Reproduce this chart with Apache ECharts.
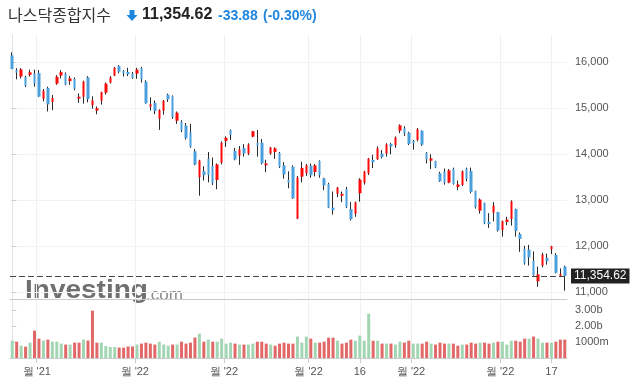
<!DOCTYPE html>
<html><head><meta charset="utf-8">
<script src="https://cdn.jsdelivr.net/npm/echarts@6/dist/echarts.min.js"></script>
<style>html,body{margin:0;padding:0;background:#fff}#c{width:633px;height:384px}</style>
</head><body><div id="c"></div>
<script>
const dates = [
'2021-11-22','2021-11-23','2021-11-24','2021-11-26','2021-11-29','2021-11-30',
'2021-12-01','2021-12-02','2021-12-03','2021-12-06','2021-12-07','2021-12-08','2021-12-09','2021-12-10','2021-12-13','2021-12-14','2021-12-15','2021-12-16','2021-12-17','2021-12-20','2021-12-21','2021-12-22','2021-12-23','2021-12-27','2021-12-28','2021-12-29','2021-12-30','2021-12-31',
'2022-01-03','2022-01-04','2022-01-05','2022-01-06','2022-01-07','2022-01-10','2022-01-11','2022-01-12','2022-01-13','2022-01-14','2022-01-18','2022-01-19','2022-01-20','2022-01-21','2022-01-24','2022-01-25','2022-01-26','2022-01-27','2022-01-28','2022-01-31',
'2022-02-01','2022-02-02','2022-02-03','2022-02-04','2022-02-07','2022-02-08','2022-02-09','2022-02-10','2022-02-11','2022-02-14','2022-02-15','2022-02-16','2022-02-17','2022-02-18','2022-02-22','2022-02-23','2022-02-24','2022-02-25','2022-02-28',
'2022-03-01','2022-03-02','2022-03-03','2022-03-04','2022-03-07','2022-03-08','2022-03-09','2022-03-10','2022-03-11','2022-03-14','2022-03-15','2022-03-16','2022-03-17','2022-03-18','2022-03-21','2022-03-22','2022-03-23','2022-03-24','2022-03-25','2022-03-28','2022-03-29','2022-03-30','2022-03-31',
'2022-04-01','2022-04-04','2022-04-05','2022-04-06','2022-04-07','2022-04-08','2022-04-11','2022-04-12','2022-04-13','2022-04-14','2022-04-18','2022-04-19','2022-04-20','2022-04-21','2022-04-22','2022-04-25','2022-04-26','2022-04-27','2022-04-28','2022-04-29',
'2022-05-02','2022-05-03','2022-05-04','2022-05-05','2022-05-06','2022-05-09','2022-05-10','2022-05-11','2022-05-12','2022-05-13','2022-05-16','2022-05-17','2022-05-18','2022-05-19','2022-05-20'];

const openV = [16150,15826,15690,15680,15725,15752,15767,15205,15440,15140,15535,15710,15750,15590,15637,15210,15252,15672,15065,14950,15165,15339,15557,15709,15920,15811,15789,15752,
15752,15876,15578,15035,15115,14774,14948,15296,15267,14730,14702,14622,14478,14065,13500,13630,13904,13745,13441,13817,
14289,14528,14072,13970,14137,14013,14383,14246,14252,13761,14013,14050,14028,13761,13441,13730,12600,13513,13587,
13752,13615,13854,13478,13354,12839,13143,13100,13246,12811,12709,13152,13383,13587,13876,13891,14013,14013,14224,14196,14513,14565,14470,
14289,14311,14513,14035,13861,13854,13587,13622,13383,13680,13290,13333,13687,13637,13202,12774,12941,12528,12730,12741,
12354,12528,12593,12811,12267,11941,11926,11680,11239,11580,11746,11935,11811,11361,11560];
const closeV = [15855,15775,15845,15492,15783,15538,15254,15381,15085,15225,15687,15787,15517,15650,15426,15250,15580,15200,15175,15000,15350,15535,15670,15880,15796,15760,15740,15660,
15840,15630,15110,15090,14940,14960,15165,15195,14810,14905,14530,14350,14160,13780,13865,13545,13550,13370,13780,14250,
14360,14420,13890,14105,14020,14210,14500,14187,13805,13800,14150,14130,13725,13560,13383,13045,13490,13705,13760,
13545,13760,13545,13325,12840,12785,13275,13140,12850,12590,12955,13450,13625,13905,13830,14130,13940,14215,14168,14365,14630,14460,14225,
14240,14545,14210,13893,13910,13715,13415,13380,13650,13355,13345,13630,13460,13180,12850,13015,12500,12480,12885,12345,
12545,12580,12975,12330,12160,11630,11760,11370,11390,11820,11675,12000,11425,11400,11354.62];
const lowV = [15850,15630,15650,15460,15690,15470,15245,15150,14930,14960,15510,15650,15500,15510,15390,15120,15100,15130,14990,14870,15080,15300,15540,15700,15760,15690,15700,15640,
15640,15560,15100,14950,14870,14530,14860,15140,14770,14660,14480,14320,14140,13760,13100,13430,13390,13330,13240,13780,
14160,14310,13870,13770,13950,13980,14370,13950,13780,13610,13990,13900,13700,13470,13260,13030,12590,13390,13530,
13490,13520,13490,13220,12830,12690,13070,12960,12830,12560,12640,12970,13340,13550,13700,13880,13910,13950,14000,14140,14460,14400,14200,
14100,14280,14180,13800,13680,13700,13400,13340,13370,13340,13220,13310,13410,13150,12820,12710,12480,12400,12540,12320,
12210,12460,12450,12210,11880,11600,11580,11360,11120,11540,11600,11830,11410,11330,11035];
const highV = [16215,15870,15875,15705,15840,15840,15830,15420,15470,15290,15720,15830,15780,15700,15670,15325,15600,15700,15260,15040,15360,15560,15700,15900,15940,15830,15880,15790,
15880,15900,15610,15240,15170,14980,15180,15320,15280,14930,14740,14680,14660,14110,13880,13740,14050,13930,13800,14280,
14390,14540,14140,14180,14220,14240,14510,14528,14330,13880,14160,14150,14050,13830,13630,13760,13530,13840,13790,
13800,13790,13870,13490,13380,13190,13290,13190,13290,12960,12970,13480,13640,13920,13990,14170,14090,14240,14250,14390,14650,14610,14490,
14310,14570,14520,14050,14000,13860,13620,13690,13680,13710,13430,13650,13710,13710,13210,13040,12950,12720,12960,12750,
12560,12640,13000,12820,12300,12010,12030,11890,11560,11860,11840,12010,11850,11520,11580];
const volumeB = [1.09,1.02,0.77,0.71,0.96,1.71,1.21,1.09,1.15,1.02,1.02,0.90,0.84,0.84,0.96,0.96,1.15,1.09,2.96,0.96,0.96,0.75,0.69,0.69,0.65,0.65,0.72,0.72,0.84,0.90,0.96,0.90,0.84,1.02,0.84,0.77,0.84,0.84,1.02,0.90,0.96,1.28,1.52,1.02,1.15,
1.02,1.02,1.21,0.90,0.96,0.90,0.84,0.84,0.84,0.90,1.02,1.02,0.90,0.84,0.77,0.90,0.96,0.90,0.90,1.34,0.96,1.34,1.21,0.96,0.96,1.02,1.27,1.27,1.08,0.90,0.96,1.15,1.08,1.40,1.08,2.77,1.08,1.08,0.90,0.90,0.90,0.84,1.02,0.96,1.08,0.90,0.90,0.90,
1.02,0.90,0.84,0.96,0.90,0.90,0.90,0.77,0.84,0.84,0.96,0.90,0.96,0.96,0.90,0.96,1.02,1.02,0.84,1.08,1.08,1.02,1.21,1.21,1.34,1.21,0.96,0.96,0.96,1.02,1.15,1.15];

const tickDates = ['2021-12-01','2022-01-03','2022-02-01','2022-03-01','2022-03-16','2022-04-01','2022-05-02','2022-05-17'];
const tickLabels = ["월 '21","월 '22","월 '22","월 '22","16","월 '22","월 '22","17"];
const tickAtBoundary = [true,true,true,true,false,true,true,false];
const priceTicks = [11000,12000,13000,14000,15000,16000];
const volTicks = [1,2,3];
const volTickLabels = ['1000m','2.00b','3.00b'];
const titleName = '나스닥종합지수';
const lastText = '11,354.62';
const changeText = '-33.88';
const pctText = '(-0.30%)';

const n = dates.length;
const tickPos = tickDates.map((d,k)=>dates.indexOf(d) - (tickAtBoundary[k] ? 0.5 : 0));
const wickData = dates.map((d,i)=>[i, openV[i], closeV[i], lowV[i], highV[i]]);
const bodyData = dates.map((d,i)=>[i, openV[i], closeV[i], Math.min(openV[i],closeV[i]), Math.max(openV[i],closeV[i])]);
const volData = dates.map((d,i)=>({
  value:[i, volumeB[i]],
  itemStyle:{color: (i===0 || closeV[i] >= closeV[i-1]) ? '#a2d6b3' : '#e26868'}
}));

const AX = 'Arial, "Liberation Sans", sans-serif';
const KR = '"Noto Sans CJK KR", sans-serif';
const labelOf = v => { for (let k=0;k<tickPos.length;k++) if (Math.abs(tickPos[k]-v)<1e-6) return tickLabels[k]; return ''; };

const chart = echarts.init(document.getElementById('c'), null, {renderer:'canvas'});
chart.setOption({
  animation:false,
  backgroundColor:'#fff',
  grid:[
    {left:10, right:66, top:35, height:264},
    {left:10, right:66, top:300, height:58}
  ],
  xAxis:[
    {type:'value', gridIndex:0, min:-0.5, max:n-0.5,
     axisLine:{show:true, lineStyle:{color:'#cccccc'}},
     axisTick:{show:false, customValues:tickPos},
     axisLabel:{show:false, customValues:tickPos},
     splitLine:{show:true, lineStyle:{color:'#f0f0f0'}}},
    {type:'value', gridIndex:1, min:-0.5, max:n-0.5,
     axisLine:{show:true, lineStyle:{color:'#cccccc'}},
     axisTick:{show:true, length:5, customValues:tickPos, lineStyle:{color:'#cccccc'}},
     axisLabel:{show:true, customValues:tickPos, formatter:labelOf, color:'#555', fontSize:11, fontFamily:AX, margin:8},
     splitLine:{show:true, lineStyle:{color:'#f0f0f0'}}}
  ],
  yAxis:[
    {type:'value', gridIndex:0, position:'right', min:10854, max:16593,
     axisLine:{show:true, lineStyle:{color:'#e2e2e2'}},
     axisTick:{show:true, length:4, customValues:priceTicks, lineStyle:{color:'#cccccc'}},
     axisLabel:{customValues:priceTicks, formatter:v=>v.toLocaleString('en-US'), color:'#555', fontSize:11, fontFamily:AX, margin:8},
     splitLine:{show:true, lineStyle:{color:'#f2f2f2'}}},
    {type:'value', gridIndex:1, position:'right', min:0, max:3.625,
     axisLine:{show:true, lineStyle:{color:'#e2e2e2'}},
     axisTick:{show:true, length:4, customValues:volTicks, lineStyle:{color:'#cccccc'}},
     axisLabel:{customValues:volTicks, formatter:v=>volTickLabels[volTicks.indexOf(v)], color:'#555', fontSize:11, fontFamily:AX, margin:8},
     splitLine:{show:false}}
  ],
  series:[
    {type:'candlestick', name:'wick', xAxisIndex:0, yAxisIndex:0, data:wickData, barWidth:1,
     itemStyle:{color:'#2a2a2a', color0:'#2a2a2a', borderColor:'#2a2a2a', borderColor0:'#2a2a2a', borderWidth:1}},
    {type:'candlestick', name:'body', xAxisIndex:0, yAxisIndex:0, data:bodyData, barWidth:3,
     itemStyle:{color:'#ff0a0a', color0:'#4a9fdc', borderColor:'#ff0a0a', borderColor0:'#4a9fdc', borderWidth:0},
     markLine:{silent:true, symbol:['none','none'], animation:false,
       data:[{yAxis: closeV[n-1]}],
       lineStyle:{color:'#444', type:[6,3], width:1},
       label:{show:true, position:'end', formatter:lastText, backgroundColor:'#222', color:'#fff', fontSize:12, fontFamily:AX, padding:[2,3,1,3], distance:4}}},
    {type:'bar', name:'volume', xAxisIndex:1, yAxisIndex:1, data:volData, barWidth:3}
  ],
  graphic:[
    {type:'text', x:8, y:15, style:{text:titleName, font:'16px '+KR, fill:'#333', verticalAlign:'middle'}},
    {type:'polygon', shape:{points:[[129.5,10],[134.5,10],[134.5,15],[137.5,15],[132,21],[126.5,15],[129.5,15]]}, style:{fill:'#1f86e0'}},
    {type:'text', x:142, y:15, style:{text:lastText, font:'bold 16px '+AX, fill:'#222', verticalAlign:'middle'}},
    {type:'text', x:218, y:16, style:{text:changeText, font:'bold 14px '+AX, fill:'#1f86e0', verticalAlign:'middle'}},
    {type:'text', x:263, y:16, style:{text:pctText, font:'bold 14px '+AX, fill:'#1f86e0', verticalAlign:'middle'}},
    {type:'text', x:25, y:291, scaleX:1.12, style:{text:'Investing', font:'bold 25px '+AX, fill:'#707070', verticalAlign:'middle'}},
    {type:'text', x:146, y:295, style:{text:'.com', font:'17px '+AX, fill:'#8a8a8a', verticalAlign:'middle'}}
  ]
});
</script></body></html>
